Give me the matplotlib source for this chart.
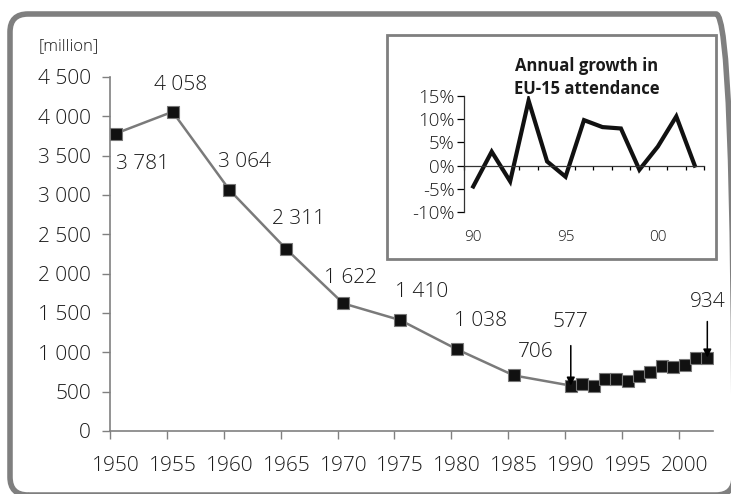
import matplotlib
matplotlib.use("Agg")
import matplotlib.pyplot as plt
from matplotlib.patches import FancyBboxPatch, Rectangle
from matplotlib.transforms import blended_transform_factory

plt.rcParams['font.family'] = ['Open Sans', 'DejaVu Sans']
plt.rcParams['font.weight'] = 'light'
plt.rcParams['text.color'] = '#1a1a1a'

# main series: EU-15 cinema attendance (million)
years = [1950, 1955, 1960, 1965, 1970, 1975, 1980, 1985,
         1990, 1991, 1992, 1993, 1994, 1995, 1996, 1997, 1998, 1999, 2000, 2001, 2002]
attendance = [3781, 4058, 3064, 2311, 1622, 1410, 1038, 706,
              577, 595, 570, 655, 657, 638, 700, 756, 821, 808, 843, 928, 934]
ytick_vals = [0, 500, 1000, 1500, 2000, 2500, 3000, 3500, 4000, 4500]
ytick_labels = ['0', '500', '1 000', '1 500', '2 000', '2 500', '3 000', '3 500', '4 000', '4 500']
xtick_years = [1950, 1955, 1960, 1965, 1970, 1975, 1980, 1985, 1990, 1995, 2000]

# labelled points: year, text, offset in pixels
label_years = [1950, 1955, 1960, 1965, 1970, 1975, 1980, 1985]
label_texts = ['3 781', '4 058', '3 064', '2 311', '1 622', '1 410', '1 038', '706']
label_offsets = [(27, -30), (8, 27), (15, 28), (12, 30), (7, 25), (22, 28), (24, 28), (22, 23)]

# inset: annual growth (%)
growth = [-4.5, 3.0, -3.4, 14.0, 0.9, -2.4, 9.8, 8.3, 8.0, -0.9, 4.1, 10.6, 0.0]
growth_yticks = [-10, -5, 0, 5, 10, 15]
growth_xlabels = {0: '90', 5: '95', 10: '00'}

W, H = 731, 494
fig = plt.figure(figsize=(W / 100, H / 100), dpi=100)

# rounded outer frame in pixel coords (partly cut off at right/bottom)
frame = FancyBboxPatch((10, H - 495), 734 - 10, 495 - 14,
                       boxstyle="round,pad=0,rounding_size=18",
                       transform=None, facecolor='none',
                       edgecolor='#7f7f7f', linewidth=4, zorder=5)
fig.add_artist(frame)

ax = fig.add_axes([110 / W, 1 - 431 / H, (713 - 110) / W, (431 - 77) / H])
xs = [y + 0.5 for y in years]
ax.plot(xs, attendance, color='#7a7a7a', linewidth=1.8, marker='s', markersize=8.8,
        markerfacecolor='#111111', markeredgecolor='#777777', markeredgewidth=0.8, zorder=3)

ax.set_xlim(1950, 2003)
ax.set_ylim(0, 4500)
ax.set_yticks(ytick_vals)
ax.set_yticklabels(ytick_labels)
ax.set_xticks(xtick_years)
ax.set_xticklabels([])
ax.set_xticks([y + 0.5 for y in xtick_years], minor=True)
ax.set_xticklabels([str(y) for y in xtick_years], minor=True)
ax.tick_params(axis='x', which='major', direction='out', length=5.5, width=1, color='#808080')
ax.tick_params(axis='x', which='minor', length=0, pad=18, labelsize=15, labelcolor='#1a1a1a')
ax.tick_params(axis='y', direction='out', length=5.8, width=1, color='#808080', pad=8,
               labelsize=15, labelcolor='#1a1a1a')
for s in ['top', 'right']:
    ax.spines[s].set_visible(False)
for s in ['left', 'bottom']:
    ax.spines[s].set_color('#808080')
    ax.spines[s].set_linewidth(1.2)

for yr, txt, off in zip(label_years, label_texts, label_offsets):
    val = attendance[years.index(yr)]
    ax.annotate(txt, xy=(yr + 0.5, val), xytext=off, textcoords='offset pixels',
                ha='center', va='center', fontsize=15)

# arrows for 1990 and 2002
for yr, txt, toff, aoff in [(1990, '577', 64, 40), (2002, '934', 56, 36)]:
    val = attendance[years.index(yr)]
    ax.annotate(txt, xy=(yr + 0.5, val), xytext=(0, toff), textcoords='offset pixels',
                ha='center', va='center', fontsize=15)
    ax.annotate('', xy=(yr + 0.5, val), xytext=(0, aoff), textcoords='offset pixels',
                arrowprops=dict(arrowstyle='-|>', color='black', lw=1.1,
                                shrinkA=0, shrinkB=0, mutation_scale=12), zorder=4)

fig.text(69 / W, 1 - 46 / H, '[million]', ha='center', va='center', fontsize=12)

# inset frame
box = Rectangle((387 / W, 1 - 259 / H), (716 - 387) / W, (259 - 35) / H,
                transform=fig.transFigure, facecolor='white', edgecolor='#7f7f7f',
                linewidth=2, zorder=1)
fig.add_artist(box)

ins = fig.add_axes([464 / W, 1 - 212 / H, (704 - 464) / W, 116 / H], zorder=2)
ins.patch.set_visible(False)
ins.plot(range(len(growth)), growth, color='#111111', linewidth=3, solid_joinstyle='miter')
ins.set_xlim(-0.5, 12.5)
ins.set_ylim(-10, 15)
ins.set_yticks(growth_yticks)
ins.set_yticklabels(['%d%%' % v for v in growth_yticks])
ins.tick_params(axis='y', direction='out', length=5, width=0.9, pad=1.5, labelsize=13.5,
                labelcolor='#1a1a1a')
ins.set_xticks([i - 0.5 for i in range(14)])
ins.set_xticklabels([])
ins.tick_params(axis='x', direction='out', length=3, width=0.9)
ins.spines['bottom'].set_position(('data', 0))
for s in ['top', 'right']:
    ins.spines[s].set_visible(False)
for s in ['left', 'bottom']:
    ins.spines[s].set_color('#333333')
    ins.spines[s].set_linewidth(0.9)
tr = blended_transform_factory(ins.transData, ins.transAxes)
for i, lab in growth_xlabels.items():
    ins.text(i, -0.224, lab, transform=tr, ha='center', va='center', fontsize=11)
ins.text(0.5125, 1.16, 'Annual growth in\nEU-15 attendance', transform=ins.transAxes,
         ha='center', va='center', fontsize=12, fontweight='bold', linespacing=1.35)

fig.savefig('out.png', dpi=100)
